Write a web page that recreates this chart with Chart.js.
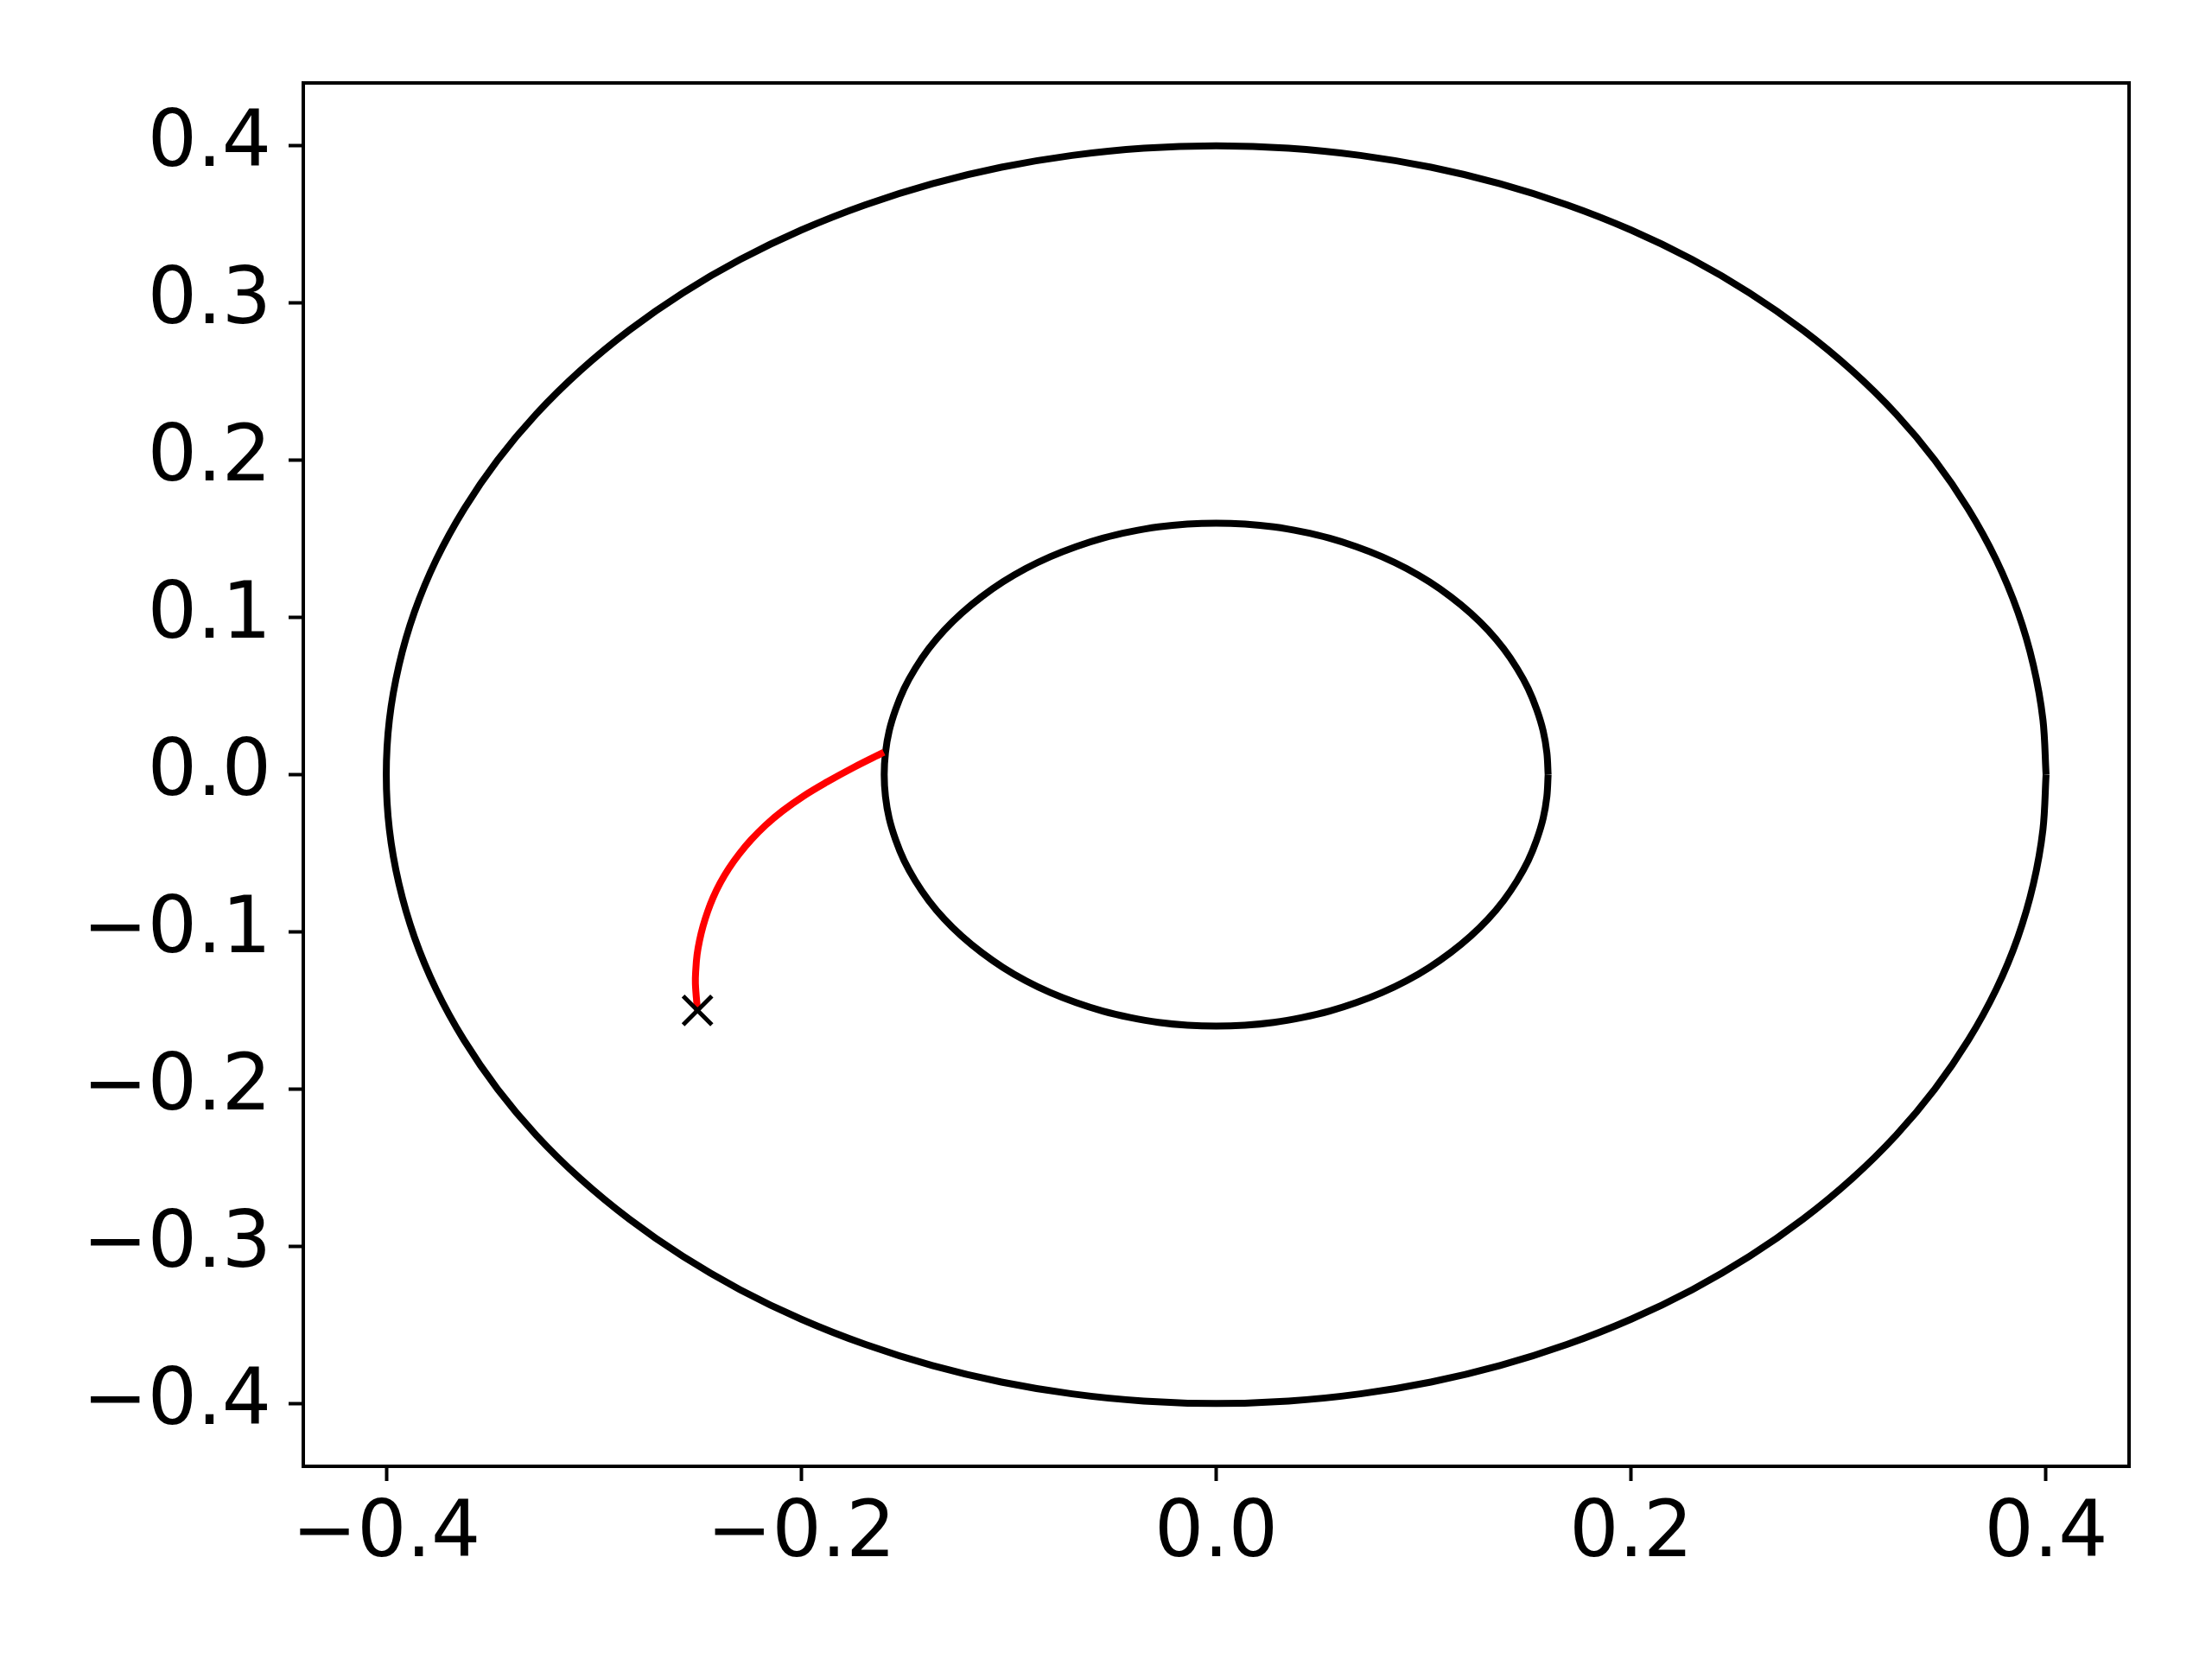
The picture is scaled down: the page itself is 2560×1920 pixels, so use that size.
<!DOCTYPE html>
<html>
	<head>
		<meta charset="UTF-8">
		<title>circles</title>
		<script src="https://cdn.jsdelivr.net/npm/chart.js@4/dist/chart.umd.min.js"></script>
		<style>
			body{margin:0;background:#fff;}
			#box{width:2560px;height:1920px;}
		</style>
	</head>
	<body>
		<div id="box"><canvas id="myChart" width="2560" height="1920"></canvas></div>
	<script>
		// outer circle, r = 0.4, points every 5 deg
		var outerX=[0.4,0.3985,0.3939,0.3864,0.3759,0.3625,0.3464,0.3277,0.3064,0.2828,0.2571,0.2294,0.2,0.169,0.1368,0.1035,0.0695,0.0349,0,
			-0.0349,-0.0695,-0.1035,-0.1368,-0.169,-0.2,-0.2294,-0.2571,-0.2828,-0.3064,-0.3277,-0.3464,-0.3625,-0.3759,-0.3864,-0.3939,-0.3985,-0.4,
			-0.3985,-0.3939,-0.3864,-0.3759,-0.3625,-0.3464,-0.3277,-0.3064,-0.2828,-0.2571,-0.2294,-0.2,-0.169,-0.1368,-0.1035,-0.0695,-0.0349,0,
			0.0349,0.0695,0.1035,0.1368,0.169,0.2,0.2294,0.2571,0.2828,0.3064,0.3277,0.3464,0.3625,0.3759,0.3864,0.3939,0.3985,0.4];
		var outerY=[0,0.0349,0.0695,0.1035,0.1368,0.169,0.2,0.2294,0.2571,0.2828,0.3064,0.3277,0.3464,0.3625,0.3759,0.3864,0.3939,0.3985,0.4,
			0.3985,0.3939,0.3864,0.3759,0.3625,0.3464,0.3277,0.3064,0.2828,0.2571,0.2294,0.2,0.169,0.1368,0.1035,0.0695,0.0349,0,
			-0.0349,-0.0695,-0.1035,-0.1368,-0.169,-0.2,-0.2294,-0.2571,-0.2828,-0.3064,-0.3277,-0.3464,-0.3625,-0.3759,-0.3864,-0.3939,-0.3985,-0.4,
			-0.3985,-0.3939,-0.3864,-0.3759,-0.3625,-0.3464,-0.3277,-0.3064,-0.2828,-0.2571,-0.2294,-0.2,-0.169,-0.1368,-0.1035,-0.0695,-0.0349,0];
		// inner circle, r = 0.16
		var innerX=[0.16,0.1594,0.1576,0.1545,0.1504,0.145,0.1386,0.1311,0.1226,0.1131,0.1028,0.0918,0.08,0.0676,0.0547,0.0414,0.0278,0.0139,0,
			-0.0139,-0.0278,-0.0414,-0.0547,-0.0676,-0.08,-0.0918,-0.1028,-0.1131,-0.1226,-0.1311,-0.1386,-0.145,-0.1504,-0.1545,-0.1576,-0.1594,-0.16,
			-0.1594,-0.1576,-0.1545,-0.1504,-0.145,-0.1386,-0.1311,-0.1226,-0.1131,-0.1028,-0.0918,-0.08,-0.0676,-0.0547,-0.0414,-0.0278,-0.0139,0,
			0.0139,0.0278,0.0414,0.0547,0.0676,0.08,0.0918,0.1028,0.1131,0.1226,0.1311,0.1386,0.145,0.1504,0.1545,0.1576,0.1594,0.16];
		var innerY=[0,0.0139,0.0278,0.0414,0.0547,0.0676,0.08,0.0918,0.1028,0.1131,0.1226,0.1311,0.1386,0.145,0.1504,0.1545,0.1576,0.1594,0.16,
			0.1594,0.1576,0.1545,0.1504,0.145,0.1386,0.1311,0.1226,0.1131,0.1028,0.0918,0.08,0.0676,0.0547,0.0414,0.0278,0.0139,0,
			-0.0139,-0.0278,-0.0414,-0.0547,-0.0676,-0.08,-0.0918,-0.1028,-0.1131,-0.1226,-0.1311,-0.1386,-0.145,-0.1504,-0.1545,-0.1576,-0.1594,-0.16,
			-0.1594,-0.1576,-0.1545,-0.1504,-0.145,-0.1386,-0.1311,-0.1226,-0.1131,-0.1028,-0.0918,-0.08,-0.0676,-0.0547,-0.0414,-0.0278,-0.0139,0];
		// red path
		var pathX=[-0.2500,-0.2510,-0.2508,-0.2502,-0.2490,-0.2473,-0.2451,-0.2424,-0.2390,-0.2349,-0.2299,-0.2241,-0.2172,-0.2090,-0.1992,-0.1876,-0.1750,-0.1602];
		var pathY=[-0.1500,-0.1330,-0.1238,-0.1146,-0.1055,-0.0963,-0.0871,-0.0780,-0.0688,-0.0597,-0.0505,-0.0414,-0.0322,-0.0231,-0.0139,-0.0047,0.0044,0.0142];
		// start marker
		var markX=[-0.25];
		var markY=[-0.15];
		var xTicks=[-0.4,-0.2,0,0.2,0.4];
		var yTicks=[-0.4,-0.3,-0.2,-0.1,0,0.1,0.2,0.3,0.4];

		function pts(xs,ys){
			var a=[];
			for(var i=0;i<xs.length;i++){
				a.push({x:xs[i],y:ys[i]});
			}
			return a;
		}
		function fmt(v){
			if(Math.abs(v)<1e-9) return "0.0";
			return v<0 ? "\u2212"+(-v).toFixed(1) : v.toFixed(1);
		}

		//外框
		var frame={
			id:"frame",
			afterDraw:function(chart){
				var a=chart.chartArea, c=chart.ctx;
				c.save();
				c.strokeStyle="#000";
				c.lineWidth=4;
				c.strokeRect(a.left,a.top,a.right-a.left,a.bottom-a.top);
				c.restore();
			}
		};

		var ctx=document.getElementById('myChart').getContext('2d');
		var myChart=new Chart(ctx,{
			type:'scatter',
			data:{
				datasets:[
					{data:pts(markX,markY),pointStyle:'crossRot',pointRadius:23.5,borderColor:'#000',borderWidth:5,backgroundColor:'#000',showLine:false,order:0},
					{data:pts(pathX,pathY),showLine:true,borderColor:'#ff0000',borderWidth:8,pointRadius:0,tension:0.4,fill:false,order:1},
					{data:pts(innerX,innerY),showLine:true,borderColor:'#000',borderWidth:8,borderJoinStyle:'round',pointRadius:0,tension:0.334,fill:false,order:2},
					{data:pts(outerX,outerY),showLine:true,borderColor:'#000',borderWidth:8,borderJoinStyle:'round',pointRadius:0,tension:0.334,fill:false,order:3}
				]
			},
			options:{
				responsive:false,
				animation:false,
				events:[],
				layout:{padding:{left:0,top:96,right:96,bottom:0}},
				plugins:{legend:{display:false},tooltip:{enabled:false}},
				scales:{
					x:{
						type:'linear',min:-0.44,max:0.44,
						afterBuildTicks:function(s){s.ticks=xTicks.map(function(v){return {value:v};});},
						afterFit:function(s){s.height=223;},
						border:{display:false},
						grid:{drawOnChartArea:false,drawTicks:true,tickLength:17,tickWidth:4,tickColor:'#000'},
						ticks:{color:'#000',padding:10,maxRotation:0,autoSkip:false,font:{family:'DejaVu Sans',size:90},callback:fmt}
					},
					y:{
						type:'linear',min:-0.44,max:0.44,
						afterBuildTicks:function(s){s.ticks=yTicks.map(function(v){return {value:v};});},
						afterFit:function(s){s.width=351;},
						border:{display:false},
						grid:{drawOnChartArea:false,drawTicks:true,tickLength:17,tickWidth:4,tickColor:'#000'},
						ticks:{color:'#000',padding:20,autoSkip:false,font:{family:'DejaVu Sans',size:90},callback:fmt}
					}
				}
			},
			plugins:[frame]
		});
	</script>
	</body>
</html>
